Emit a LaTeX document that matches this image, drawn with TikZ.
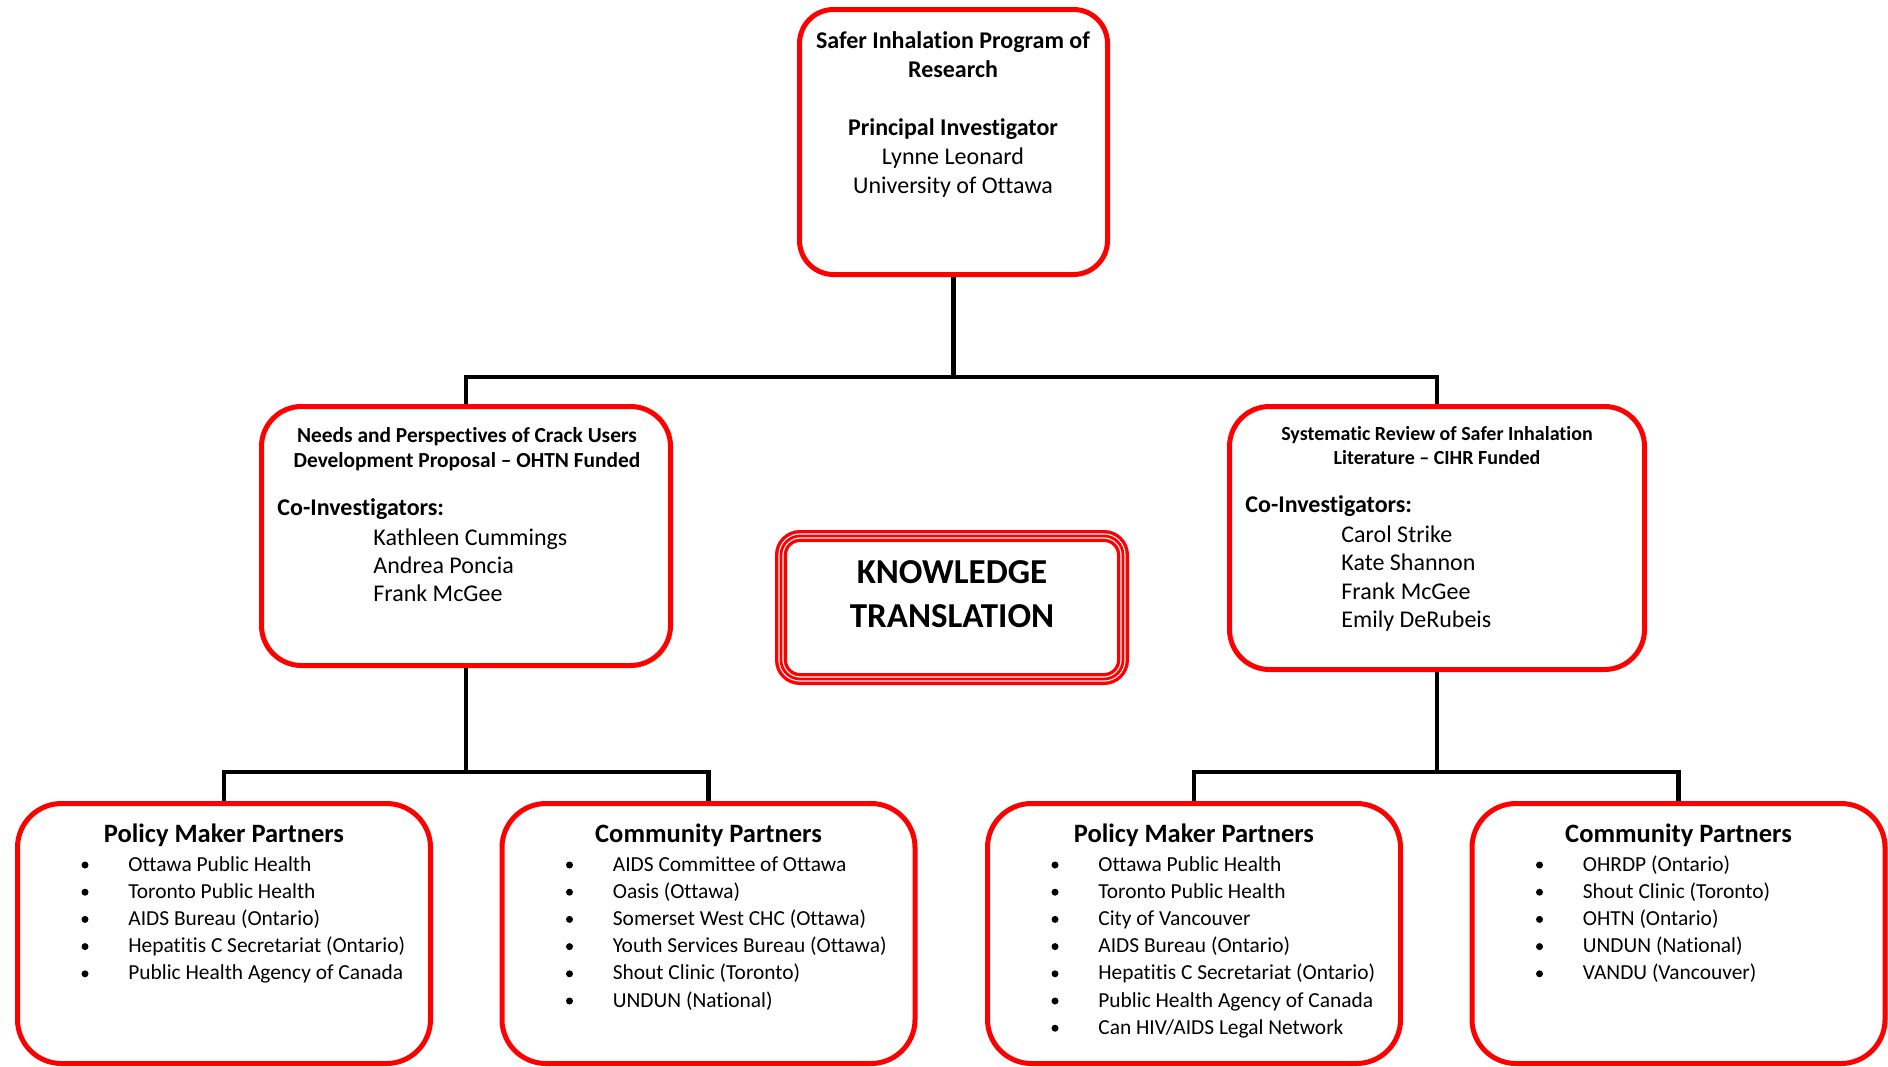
\documentclass[tikz,border=0pt]{standalone}
\usepackage{fontspec}
\setmainfont[Ligatures=NoCommon]{Carlito}
\newcommand\setsize[2]{\fontsize{#1}{#2}\selectfont}
\tikzset{
  box/.style={rectangle, draw=red, line width=2.5pt, fill=white, inner sep=0pt},
  headbox/.style={box, minimum width=154pt, minimum height=132.5pt, rounded corners=17pt},
  projbox/.style={box, rounded corners=20pt},
  partnerbox/.style={box, minimum width=206.5pt, minimum height=130pt, rounded corners=22pt},
  ktbox/.style={rectangle, draw=red, line width=6pt, inner sep=0pt,
    minimum width=171pt, minimum height=71.5pt, rounded corners=9.5pt,
    postaction={draw=white, line width=2.6pt},
    postaction={draw=red, line width=1.4pt}},
  conn/.style={draw=black, line width=2.4pt},
  txt/.style={inner sep=0pt, text=black},
  bighead/.style={txt, anchor=base, font=\bfseries\setsize{12pt}{14.5pt}},
  plain/.style={txt, font=\setsize{12pt}{14.5pt}},
  ptitle/.style={txt, anchor=base, font=\bfseries\setsize{13.25pt}{16pt}},
  pitem/.style={txt, anchor=base west, font=\setsize{10.7pt}{13pt}},
}
% partner box: name, centre x, title, list of entries
\newcommand\partners[4]{%
  \node[partnerbox] (#1) at (#2,933.5) {};
  \node[ptitle] (#1-t) at (#2,842) {#3};
  \foreach \entrytext [count=\i] in {#4} {
    \fill[black] ({#2-139},{871+(\i-1)*27.2-6}) circle (1.75pt);
    \node[pitem] (#1-i\i) at ({#2-96},{871+(\i-1)*27.2}) {\entrytext};
  }%
}
\begin{document}
\begin{tikzpicture}[x=0.5pt,y=-0.5pt]
\useasboundingbox (0,0) rectangle (1888,1066);

% program of research
\node[headbox] (top) at (953.5,142) {};
\node[bighead] (top-l1) at (953,48) {Safer Inhalation Program of};
\node[bighead] (top-l2) at (953,77) {Research};
\node[bighead] (top-l3) at (953,135) {Principal Investigator};
\node[plain, anchor=base] (top-l4) at (953,164.5) {Lynne Leonard};
\node[plain, anchor=base] (top-l5) at (953,193) {University of Ottawa};

% project boxes
\node[projbox, minimum width=204.5pt, minimum height=129.5pt] (ml) at (466,536) {};
\node[txt, anchor=base, font=\bfseries\setsize{10.7pt}{12.5pt}] (ml-h1) at (467,442) {Needs and Perspectives of Crack Users};
\node[txt, anchor=base, font=\bfseries\setsize{10.7pt}{12.5pt}] (ml-h2) at (467,467) {Development Proposal – OHTN Funded};
\node[txt, anchor=base west, font=\bfseries\setsize{12pt}{14.5pt}] (ml-co) at (277,515) {Co-Investigators:};
\foreach \nm [count=\i] in {Kathleen Cummings, Andrea Poncia, Frank McGee}
  \node[plain, anchor=base west] (ml-n\i) at (373,{545+(\i-1)*28.4}) {\nm};

\node[projbox, minimum width=207.5pt, minimum height=131.5pt] (mr) at (1437,538) {};
\node[txt, anchor=base, font=\bfseries\setsize{10pt}{12pt}] (mr-h1) at (1437,440) {Systematic Review of Safer Inhalation};
\node[txt, anchor=base, font=\bfseries\setsize{10pt}{12pt}] (mr-h2) at (1437,464) {Literature – CIHR Funded};
\node[txt, anchor=base west, font=\bfseries\setsize{12pt}{14.5pt}] (mr-co) at (1245,512) {Co-Investigators:};
\foreach \nm [count=\i] in {Carol Strike, Kate Shannon, Frank McGee, Emily DeRubeis}
  \node[plain, anchor=base west] (mr-n\i) at (1341,{542+(\i-1)*28.6}) {\nm};

% knowledge translation
\node[ktbox] (kt) at (952,607.5) {};
\node[txt, anchor=base, font=\bfseries\setsize{17.5pt}{21.5pt}] (kt-l1) at (952,583) {KNOWLEDGE};
\node[txt, anchor=base, font=\bfseries\setsize{17.5pt}{21.5pt}] (kt-l2) at (952,627) {TRANSLATION};

% partner boxes
\partners{bl}{224}{Policy Maker Partners}{{Ottawa Public Health},{Toronto Public Health},{AIDS Bureau (Ontario)},{Hepatitis C Secretariat (Ontario)},{Public Health Agency of Canada}}
\partners{bcl}{708.5}{Community Partners}{{AIDS Committee of Ottawa},{Oasis (Ottawa)},{Somerset West CHC (Ottawa)},{Youth Services Bureau (Ottawa)},{Shout Clinic (Toronto)},{UNDUN (National)}}
\partners{bcr}{1194}{Policy Maker Partners}{{Ottawa Public Health},{Toronto Public Health},{City of Vancouver},{AIDS Bureau (Ontario)},{Hepatitis C Secretariat (Ontario)},{Public Health Agency of Canada},{Can HIV/AIDS Legal Network}}
\partners{br}{1678.5}{Community Partners}{{OHRDP (Ontario)},{Shout Clinic (Toronto)},{OHTN (Ontario)},{UNDUN (National)},{VANDU (Vancouver)}}

% connectors
\coordinate (bus1) at (953,377);
\coordinate (bus2) at (0,772);
\draw[conn] (top.south) -- (top.south |- bus1);
\draw[conn, line join=miter] (ml.north) -- (ml.north |- bus1) -- (mr.north |- bus1) -- (mr.north);
\draw[conn] (ml.south) -- (ml.south |- bus2);
\draw[conn, line join=miter] (bl.north) -- (bl.north |- bus2) -- (bcl.north |- bus2) -- (bcl.north);
\draw[conn] (mr.south) -- (mr.south |- bus2);
\draw[conn, line join=miter] (bcr.north) -- (bcr.north |- bus2) -- (br.north |- bus2) -- (br.north);
\end{tikzpicture}
\end{document}
